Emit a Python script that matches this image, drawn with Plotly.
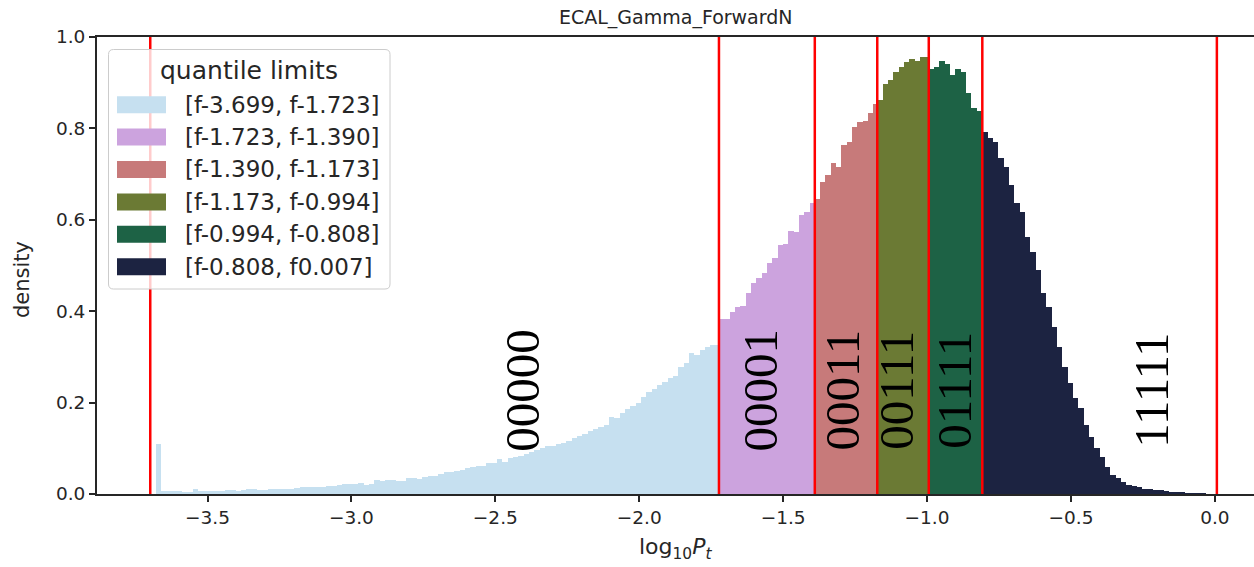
import numpy as np
import plotly.graph_objects as go

# Quantile limits (log10 Pt) and the binary code assigned to each range
limits = [-3.699, -1.723, -1.390, -1.173, -0.994, -0.808, 0.007]
codes = ["00000", "00001", "00011", "00111", "01111", "11111"]
colors = ["#c6e0f0", "#cca3de", "#c77a7a", "#6b7a34", "#1d6245", "#1c2341"]

# Histogram densities per quantile range (200 bins across the full range)
dens_q0 = [0.000, 0.109, 0.006, 0.006, 0.006, 0.006, 0.005, 0.004, 0.012, 0.006,
           0.006, 0.006, 0.006, 0.007, 0.009, 0.009, 0.007, 0.008, 0.012, 0.010,
           0.009, 0.009, 0.010, 0.012, 0.012, 0.012, 0.012, 0.013, 0.015, 0.015,
           0.015, 0.016, 0.016, 0.018, 0.018, 0.019, 0.021, 0.021, 0.022, 0.025,
           0.020, 0.021, 0.030, 0.029, 0.030, 0.030, 0.029, 0.028, 0.036, 0.035,
           0.033, 0.038, 0.039, 0.040, 0.044, 0.049, 0.049, 0.051, 0.052, 0.056,
           0.058, 0.061, 0.061, 0.067, 0.067, 0.076, 0.070, 0.078, 0.082, 0.084,
           0.088, 0.093, 0.096, 0.100, 0.104, 0.105, 0.109, 0.112, 0.117, 0.122,
           0.127, 0.131, 0.138, 0.142, 0.147, 0.151, 0.168, 0.166, 0.178, 0.185,
           0.193, 0.199, 0.213, 0.224, 0.230, 0.239, 0.246, 0.253, 0.258, 0.279,
           0.286, 0.308, 0.304, 0.315, 0.322, 0.325, 0.325]
dens_q1 = [0.383, 0.383, 0.399, 0.410, 0.411, 0.439, 0.461, 0.472, 0.484, 0.505,
           0.516, 0.545, 0.548, 0.575, 0.573, 0.610, 0.618, 0.637]
dens_q2 = [0.645, 0.683, 0.698, 0.724, 0.716, 0.764, 0.771, 0.804, 0.815, 0.817,
           0.833, 0.853]
dens_q3 = [0.862, 0.897, 0.907, 0.924, 0.935, 0.946, 0.951, 0.948, 0.957, 0.957]
dens_q4 = [0.931, 0.935, 0.948, 0.941, 0.917, 0.929, 0.924, 0.877, 0.844, 0.837]
dens_q5 = [0.793, 0.780, 0.770, 0.735, 0.716, 0.676, 0.636, 0.618, 0.563, 0.530,
           0.490, 0.439, 0.410, 0.366, 0.322, 0.279, 0.242, 0.209, 0.188, 0.151,
           0.125, 0.100, 0.082, 0.060, 0.042, 0.034, 0.027, 0.020, 0.017, 0.015,
           0.012, 0.011, 0.009, 0.008, 0.006, 0.005, 0.004, 0.003, 0.002, 0.002,
           0.001, 0.001, 0.000, 0.000]
densities = [dens_q0, dens_q1, dens_q2, dens_q3, dens_q4, dens_q5]

# x positions of the rotated code labels
code_x = [-2.404, -1.578, -1.293, -1.105, -0.903, -0.219]
code_y = 0.228

n_bins = 200
bin_w = (limits[-1] - limits[0]) / n_bins

INK = "#262626"
SANS = "DejaVu Sans"

fig = go.Figure()

for i, vals in enumerate(densities):
    lo, hi = limits[i], limits[i + 1]
    n = len(vals)
    left = lo + bin_w * np.arange(n)
    right = np.minimum(left + bin_w, hi)
    right[-1] = hi
    fig.add_trace(go.Bar(
        x=(left + right) / 2, y=vals, width=right - left,
        marker=dict(color=colors[i], line=dict(width=0)),
        name=f"[f{lo:.3f}, f{hi:.3f}]", showlegend=False,
        hoverinfo="skip",
    ))

# quantile boundaries
for lim in limits:
    fig.add_shape(type="line", xref="x", yref="y", x0=lim, x1=lim, y0=0, y1=1,
                  line=dict(color="#ff0000", width=2.5), layer="above")

# code labels
for cx, code in zip(code_x, codes):
    fig.add_annotation(x=cx, y=code_y, xref="x", yref="y", text=code,
                       textangle=-90, showarrow=False,
                       font=dict(family="Liberation Serif", size=49, color="black"),
                       xanchor="center", yanchor="middle")

# --- hand-built legend (pixel geometry converted to paper coordinates) ---
PX0, PX1, PY0, PY1 = 97, 1254, 37, 494


def px(x):
    return (x - PX0) / (PX1 - PX0)


def py(y):
    return (PY1 - y) / (PY1 - PY0)


bx0, bx1, by0, by1, r = 108.5, 390, 49.5, 289, 5
rx, ry = r / (PX1 - PX0), r / (PY1 - PY0)
X0, X1, Y0, Y1 = px(bx0), px(bx1), py(by0), py(by1)
path = (f"M {X0 + rx},{Y0} L {X1 - rx},{Y0} Q {X1},{Y0} {X1},{Y0 - ry} "
        f"L {X1},{Y1 + ry} Q {X1},{Y1} {X1 - rx},{Y1} L {X0 + rx},{Y1} "
        f"Q {X0},{Y1} {X0},{Y1 + ry} L {X0},{Y0 - ry} Q {X0},{Y0} {X0 + rx},{Y0} Z")
fig.add_shape(type="path", path=path, xref="paper", yref="paper",
              fillcolor="rgba(255,255,255,0.8)", line=dict(color="#cccccc", width=1),
              layer="above")
fig.add_annotation(x=px(249), y=py(70), xref="paper", yref="paper",
                   text="quantile limits", showarrow=False,
                   font=dict(family=SANS, size=25, color=INK),
                   xanchor="center", yanchor="middle")
row0, row_step = 104.7, 32.4
for i in range(len(codes)):
    cy = row0 + i * row_step
    fig.add_shape(type="rect", xref="paper", yref="paper",
                  x0=px(117), x1=px(166), y0=py(cy - 8.5), y1=py(cy + 8.5),
                  fillcolor=colors[i], line=dict(width=0), layer="above")
    fig.add_annotation(x=px(183), y=py(cy), xref="paper", yref="paper",
                       text=f"[f{limits[i]:.3f}, f{limits[i + 1]:.3f}]",
                       showarrow=False, font=dict(family=SANS, size=23, color=INK),
                       xanchor="left", yanchor="middle")

# title and axis labels
fig.add_annotation(x=0.5, y=py(18), xref="paper", yref="paper",
                   text="ECAL_Gamma_ForwardN", showarrow=False,
                   font=dict(family=SANS, size=19, color=INK),
                   xanchor="center", yanchor="middle")
fig.add_annotation(x=px(22), y=py(280), xref="paper", yref="paper",
                   text="density", textangle=-90, showarrow=False,
                   font=dict(family=SANS, size=21, color=INK),
                   xanchor="center", yanchor="middle")
fig.add_annotation(x=0.5, y=py(548), xref="paper", yref="paper",
                   text="log<sub>10</sub><i>P</i><sub><i>t</i></sub>", showarrow=False,
                   font=dict(family=SANS, size=22, color=INK),
                   xanchor="center", yanchor="middle")

fig.update_layout(
    width=1254, height=567,
    margin=dict(l=PX0, r=1254 - PX1, t=PY0, b=567 - PY1, pad=0),
    paper_bgcolor="white", plot_bgcolor="white",
    bargap=0, barmode="overlay", showlegend=False,
    xaxis=dict(range=[-3.884, 0.136], tickvals=[-3.5, -3.0, -2.5, -2.0, -1.5, -1.0, -0.5, 0.0],
               tickformat=".1f", ticks="outside", ticklen=6, tickwidth=1.5, tickcolor=INK,
               showline=True, linecolor=INK, linewidth=2, mirror=True,
               showgrid=False, zeroline=False,
               tickfont=dict(family=SANS, size=18.5, color=INK)),
    yaxis=dict(range=[0, 1.0], tickvals=[0.0, 0.2, 0.4, 0.6, 0.8, 1.0],
               tickformat=".1f", ticks="outside", ticklen=6, tickwidth=1.5, tickcolor=INK,
               showline=True, linecolor=INK, linewidth=2,
               showgrid=False, zeroline=False,
               tickfont=dict(family=SANS, size=18.5, color=INK)),
)

fig.write_html("out.html")
